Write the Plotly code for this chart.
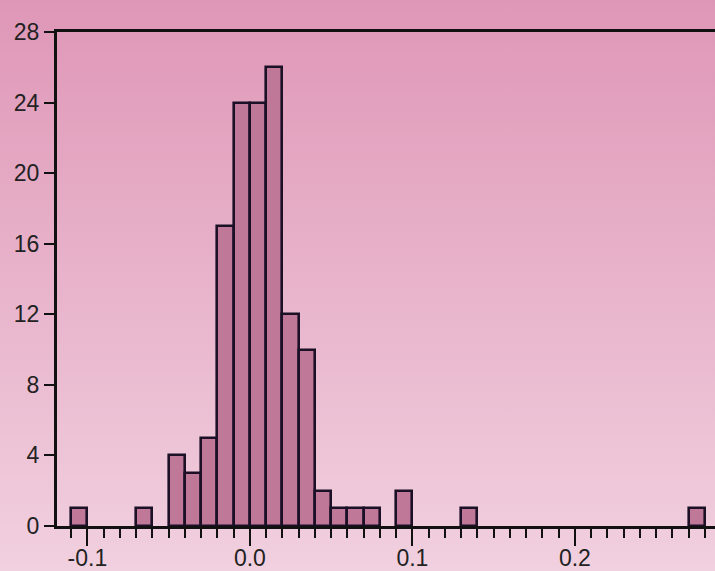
import base64
import plotly.graph_objects as go

# Histogram of returns: bins of width 0.01, given by their left edges
bin_left = [-0.11, -0.07, -0.05, -0.04, -0.03, -0.02, -0.01, 0.00, 0.01,
            0.02, 0.03, 0.04, 0.05, 0.06, 0.07, 0.09, 0.13, 0.27]
counts = [1, 1, 4, 3, 5, 17, 24, 24, 26, 12, 10, 2, 1, 1, 1, 2, 1, 1]
bin_width = 0.01

x_ticks = [-0.1, 0.0, 0.1, 0.2]
x_tick_text = ["-0.1", "0.0", "0.1", "0.2"]
y_ticks = [0, 4, 8, 12, 16, 20, 24, 28]

W, H = 715, 571
ML, MR, MT, MB = 57, 0, 32, 45

centers = [round(b + bin_width / 2, 4) for b in bin_left]

fig = go.Figure(
    go.Bar(
        x=centers,
        y=counts,
        width=bin_width,
        marker=dict(color="#c07898", line=dict(color="#1b1026", width=2.6)),
        hoverinfo="x+y",
    )
)

# vertical pink gradient behind the whole figure
svg = (
    "<svg xmlns='http://www.w3.org/2000/svg' width='100' height='100' "
    "preserveAspectRatio='none'><defs><linearGradient id='g' x1='0' y1='0' "
    "x2='0' y2='1'><stop offset='0' stop-color='#df97b7'/>"
    "<stop offset='1' stop-color='#f1d0df'/></linearGradient></defs>"
    "<rect width='100' height='100' fill='url(#g)'/></svg>"
)
uri = "data:image/svg+xml;base64," + base64.b64encode(svg.encode()).decode()
pw, ph = W - ML - MR, H - MT - MB
fig.add_layout_image(
    source=uri, xref="paper", yref="paper",
    x=-ML / pw, y=1 + MT / ph, sizex=W / pw, sizey=H / ph,
    sizing="stretch", xanchor="left", yanchor="top", layer="below",
)

font = dict(family="Liberation Sans, Arial, sans-serif", size=23, color="#222222")

fig.update_layout(
    width=W, height=H,
    margin=dict(l=ML, r=MR, t=MT, b=MB, pad=0),
    paper_bgcolor="rgba(0,0,0,0)",
    plot_bgcolor="rgba(0,0,0,0)",
    showlegend=False,
    bargap=0,
    font=font,
    xaxis=dict(
        range=[-0.1187, 0.2862],
        tickvals=x_ticks, ticktext=x_tick_text,
        ticks="outside", ticklen=17, tickwidth=2, tickcolor="#111111",
        ticklabelstandoff=-8,
        minor=dict(dtick=0.01, tick0=0, ticks="outside", ticklen=9,
                   tickwidth=2, tickcolor="#111111", showgrid=False),
        showline=True, linecolor="#111111", linewidth=3, mirror=True,
        showgrid=False, zeroline=False, tickfont=font, automargin=False,
    ),
    yaxis=dict(
        range=[0, 28],
        tickvals=y_ticks,
        ticks="outside", ticklen=10, tickwidth=2, tickcolor="#111111",
        showline=True, linecolor="#111111", linewidth=3,
        showgrid=False, zeroline=False, tickfont=font, automargin=False,
    ),
)

fig.write_html("out.html")
